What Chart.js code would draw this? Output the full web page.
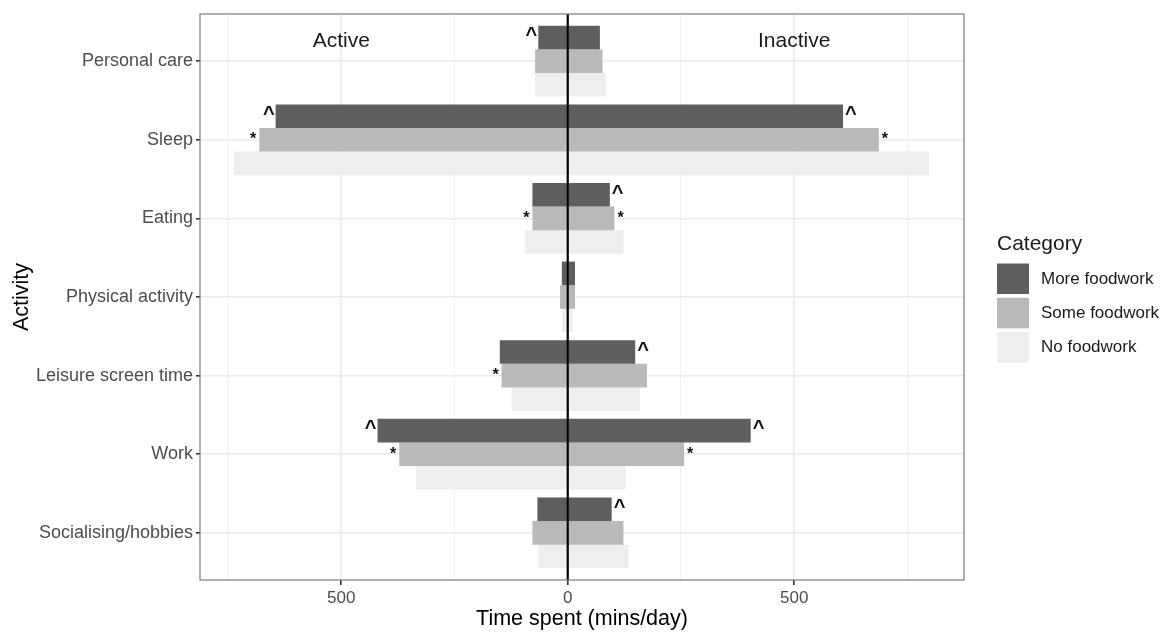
<!DOCTYPE html>
<html>
<head>
<meta charset="utf-8">
<script src="https://cdn.jsdelivr.net/npm/chart.js@4"></script>
<style>
  html, body { margin: 0; padding: 0; background: #fff; }
</style>
</head>
<body>
<canvas id="foodwork_chart" width="1162" height="633"></canvas>
<script>
// activities, top to bottom
const activities = ["Personal care", "Sleep", "Eating", "Physical activity", "Leisure screen time", "Work", "Socialising/hobbies"];
const categories = ["More foodwork", "Some foodwork", "No foodwork"];

// mins/day spent active (drawn to the left of zero)
const activeMore = [65, 645, 78, 13, 150, 420, 67];
const activeSome = [72, 681, 78, 17, 146, 372, 78];
const activeNone = [72, 737, 94, 13, 124, 335, 65];
// mins/day spent inactive (drawn to the right)
const inactiveMore = [71, 608, 93, 16, 149, 404, 97];
const inactiveSome = [77, 687, 103, 16, 175, 257, 123];
const inactiveNone = [84, 798, 123, 11, 159, 128, 134];

// significance markers next to bars
const activeMoreMarks = ["^", "^", "", "", "", "^", ""];
const activeSomeMarks = ["", "*", "*", "", "*", "*", ""];
const inactiveMoreMarks = ["", "^", "^", "", "^", "^", "^"];
const inactiveSomeMarks = ["", "*", "*", "", "", "*", ""];

// x grid positions; labels only on the 500 steps
const xTicks = [-750, -500, -250, 0, 250, 500, 750];
const sideLabels = ["Active", "Inactive"];
const colours = ["#5e5e5e", "#b9b9b9", "#eeeeee"];
const family = '"Liberation Sans", Arial, Helvetica, sans-serif';

Chart.defaults.font.family = family;

function points(values, sign) {
    return values.map((v, i) => ({ x: sign * v, y: i + 1 }));
}

function makeSet(label, values, sign, idx, marks) {
    return {
        label: label,
        data: points(values, sign),
        stack: "s" + idx,
        backgroundColor: colours[idx],
        borderWidth: 0,
        barPercentage: 1.0,
        categoryPercentage: 0.9,
        marks: marks || null,
        inLegend: sign < 0
    };
}

const isMajor = c => c.tick && c.tick.value % 500 === 0;

const panelPlugin = {
    id: "panel",
    afterDatasetsDraw(chart) {
        const { ctx, chartArea: a, scales: { x } } = chart;
        ctx.save();
        // zero line
        const x0 = x.getPixelForValue(0);
        ctx.strokeStyle = "#000";
        ctx.lineWidth = 2.2;
        ctx.beginPath();
        ctx.moveTo(x0, a.top);
        ctx.lineTo(x0, a.bottom);
        ctx.stroke();

        // markers
        ctx.fillStyle = "#111";
        ctx.textBaseline = "alphabetic";
        chart.data.datasets.forEach((ds, di) => {
            if (!ds.marks) return;
            chart.getDatasetMeta(di).data.forEach((bar, i) => {
                const m = ds.marks[i];
                if (!m) return;
                const neg = bar.x < bar.base;
                const top = bar.y - bar.height / 2;
                ctx.textAlign = neg ? "right" : "left";
                if (m === "^") {
                    ctx.font = "bold 20px " + family;
                    ctx.fillText(m, bar.x + (neg ? -1 : 2), top + 15.5);
                } else {
                    ctx.font = "bold 16px " + family;
                    ctx.fillText(m, bar.x + (neg ? -3 : 3), top + 16.5);
                }
            });
        });

        // side headings
        ctx.font = "21px " + family;
        ctx.fillStyle = "#1a1a1a";
        ctx.textAlign = "center";
        ctx.fillText(sideLabels[0], x.getPixelForValue(-500), a.top + 33);
        ctx.fillText(sideLabels[1], x.getPixelForValue(500), a.top + 33);

        // panel border
        ctx.strokeStyle = "#7a7a7a";
        ctx.lineWidth = 1.2;
        ctx.strokeRect(a.left, a.top, a.right - a.left, a.bottom - a.top);
        ctx.restore();
    },
    afterDraw(chart) {
        const { ctx } = chart;
        const left = 997;
        ctx.save();
        ctx.fillStyle = "#1a1a1a";
        ctx.font = "21px " + family;
        ctx.textAlign = "left";
        ctx.textBaseline = "alphabetic";
        ctx.fillText("Category", left, 250);
        ctx.font = "17px " + family;
        ctx.textBaseline = "middle";
        chart.data.datasets.filter(d => d.inLegend).forEach((ds, i) => {
            const top = 263.5 + i * 34.3;
            ctx.fillStyle = ds.backgroundColor;
            ctx.fillRect(left, top, 32, 30.5);
            ctx.fillStyle = "#1a1a1a";
            ctx.fillText(ds.label, left + 44, top + 15.5);
        });
        ctx.restore();
    }
};

const ctx = document.getElementById("foodwork_chart");
const foodwork_chart = new Chart(ctx, {
    type: "bar",
    data: {
        datasets: [
            makeSet(categories[0], activeMore, -1, 0, activeMoreMarks),
            makeSet(categories[1], activeSome, -1, 1, activeSomeMarks),
            makeSet(categories[2], activeNone, -1, 2),
            makeSet(categories[0], inactiveMore, 1, 0, inactiveMoreMarks),
            makeSet(categories[1], inactiveSome, 1, 1, inactiveSomeMarks),
            makeSet(categories[2], inactiveNone, 1, 2)
        ]
    },
    options: {
        indexAxis: "y",
        responsive: false,
        animation: false,
        layout: { padding: { top: 14, right: 198, bottom: 0, left: 0 } },
        plugins: {
            legend: { display: false },
            tooltip: { enabled: false }
        },
        scales: {
            x: {
                type: "linear",
                min: -812,
                max: 875,
                bounds: "data",
                stacked: true,
                afterBuildTicks(s) { s.ticks = xTicks.map(v => ({ value: v })); },
                afterFit(s) { s.height = 53; },
                border: { display: false },
                grid: {
                    color: c => isMajor(c) ? "#ebebeb" : "#f1f1f1",
                    lineWidth: c => isMajor(c) ? 1.6 : 1,
                    tickLength: 5,
                    tickColor: c => isMajor(c) ? "#333" : "rgba(0,0,0,0)"
                },
                ticks: {
                    autoSkip: false,
                    maxRotation: 0,
                    padding: 3,
                    color: "#4d4d4d",
                    font: { size: 17 },
                    callback: v => v % 500 === 0 ? String(Math.abs(v)) : ""
                },
                title: {
                    display: true,
                    text: "Time spent (mins/day)",
                    color: "#000",
                    font: { size: 21.5 },
                    padding: { top: 0, bottom: 1 }
                }
            },
            y: {
                type: "linear",
                min: 0.4,
                max: 7.6,
                bounds: "data",
                reverse: true,
                offset: false,
                afterBuildTicks(s) { s.ticks = activities.map((a, i) => ({ value: i + 1 })); },
                afterFit(s) { s.width = 200; },
                border: { display: false },
                grid: { offset: false, color: "#ebebeb", lineWidth: 1.6, tickLength: 4, tickColor: "#333" },
                ticks: {
                    autoSkip: false,
                    padding: 3,
                    color: "#4d4d4d",
                    font: { size: 18 },
                    callback: v => activities[v - 1]
                },
                title: {
                    display: true,
                    text: "Activity",
                    color: "#000",
                    font: { size: 21.5 },
                    padding: { top: 9, bottom: 0 }
                }
            }
        }
    },
    plugins: [panelPlugin]
});
</script>
</body>
</html>
